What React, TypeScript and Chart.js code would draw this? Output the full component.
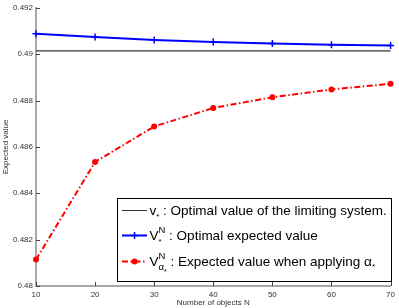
import { useEffect, useRef } from "react";
import { Chart, registerables } from "chart.js";

Chart.register(...registerables);

const objectCounts = [10, 20, 30, 40, 50, 60, 70];
const limitingValue = 0.49014;
const optimalExpected = [0.49088, 0.49074, 0.49061, 0.49053, 0.49046, 0.49041, 0.49037];
const appliedExpected = [0.48114, 0.48535, 0.48688, 0.48768, 0.48814, 0.48848, 0.48872];
const yTickValues = [0.48, 0.482, 0.484, 0.486, 0.488, 0.49, 0.492];
const xTickValues = [10, 20, 30, 40, 50, 60, 70];

const FONT = '"Liberation Sans", Arial, Helvetica, sans-serif';

type Part = { t: string; size: number; dy?: number; mode?: "next" | "stack" | "after" };

function drawRich(ctx: CanvasRenderingContext2D, x: number, y: number, parts: Part[]) {
  let lastStart = x;
  let lastEnd = x;
  let maxEnd = x;
  for (const p of parts) {
    ctx.font = `${p.size}px ${FONT}`;
    const mode = p.mode || "next";
    const px = mode === "stack" ? lastStart : mode === "after" ? maxEnd : lastEnd;
    ctx.fillText(p.t, px, y + (p.dy || 0));
    const w = ctx.measureText(p.t).width;
    lastStart = px;
    lastEnd = px + w;
    maxEnd = Math.max(maxEnd, lastEnd);
  }
}

const inwardTicks = {
  id: "inwardTicks",
  afterDatasetsDraw(chart: any) {
    const ctx = chart.ctx as CanvasRenderingContext2D;
    const xs = chart.scales.x;
    const ys = chart.scales.y;
    const { left, bottom } = chart.chartArea;
    ctx.save();
    ctx.strokeStyle = "#444";
    ctx.lineWidth = 1;
    ctx.beginPath();
    for (const t of xs.ticks) {
      const px = Math.round(xs.getPixelForValue(t.value)) + 0.5;
      ctx.moveTo(px, bottom);
      ctx.lineTo(px, bottom - 4);
    }
    for (const t of ys.ticks) {
      const py = Math.round(ys.getPixelForValue(t.value)) + 0.5;
      ctx.moveTo(left, py);
      ctx.lineTo(left + 4, py);
    }
    ctx.stroke();
    ctx.restore();
  },
};

const customLegend = {
  id: "customLegend",
  afterDraw(chart: any) {
    const ctx = chart.ctx as CanvasRenderingContext2D;
    const bx = 117.5, by = 198.5, bw = 274, bh = 83;
    ctx.save();
    ctx.fillStyle = "#fff";
    ctx.fillRect(bx, by, bw, bh);
    ctx.strokeStyle = "#000";
    ctx.lineWidth = 1;
    ctx.strokeRect(bx, by, bw, bh);

    const sx0 = 122, sx1 = 147, sxm = 134.5;
    const rows = [210, 235.5, 261.5];

    // row 1
    ctx.strokeStyle = "#333";
    ctx.lineWidth = 1;
    ctx.beginPath();
    ctx.moveTo(sx0, rows[0] + 0.5);
    ctx.lineTo(sx1, rows[0] + 0.5);
    ctx.stroke();

    // row 2
    ctx.strokeStyle = "#0000ff";
    ctx.lineWidth = 2;
    ctx.beginPath();
    ctx.moveTo(sx0, rows[1]);
    ctx.lineTo(sx1, rows[1]);
    ctx.stroke();
    ctx.lineWidth = 1.5;
    ctx.beginPath();
    ctx.moveTo(sxm - 3.5, rows[1]);
    ctx.lineTo(sxm + 3.5, rows[1]);
    ctx.moveTo(sxm, rows[1] - 3.5);
    ctx.lineTo(sxm, rows[1] + 3.5);
    ctx.stroke();

    // row 3
    ctx.strokeStyle = "#ff0000";
    ctx.lineWidth = 2;
    ctx.setLineDash([6, 2.5, 1.5, 2.5]);
    ctx.beginPath();
    ctx.moveTo(sx0, rows[2]);
    ctx.lineTo(sx1, rows[2]);
    ctx.stroke();
    ctx.setLineDash([]);
    ctx.fillStyle = "#ff0000";
    ctx.beginPath();
    ctx.arc(sxm, rows[2], 3, 0, Math.PI * 2);
    ctx.fill();

    ctx.fillStyle = "#000";
    ctx.textBaseline = "alphabetic";
    ctx.textAlign = "left";
    const tx = 149.5;
    const big = 13.5;
    drawRich(ctx, tx, rows[0] + 4.5, [
      { t: "v", size: big },
      { t: "*", size: 8, dy: 4 },
      { t: " : Optimal value of the limiting system.", size: big, mode: "after" },
    ]);
    drawRich(ctx, tx, rows[1] + 4.5, [
      { t: "V", size: big },
      { t: "N", size: 9.5, dy: -7 },
      { t: "*", size: 8, dy: 4, mode: "stack" },
      { t: " : Optimal expected value", size: big, mode: "after" },
    ]);
    drawRich(ctx, tx, rows[2] + 4.5, [
      { t: "V", size: big },
      { t: "N", size: 9.5, dy: -7 },
      { t: "α", size: 9.5, dy: 4, mode: "stack" },
      { t: "*", size: 7, dy: 8 },
      { t: " : Expected value when applying ", size: big, mode: "after" },
      { t: "α", size: big },
      { t: "*", size: 8, dy: 3 },
    ]);
    ctx.restore();
  },
};

export default function App() {
  const ref = useRef<HTMLCanvasElement | null>(null);

  useEffect(() => {
    if (!ref.current) return;
    const chart = new Chart(ref.current, {
      type: "line",
      data: {
        datasets: [
          {
            label: "limiting",
            data: objectCounts.map((n) => ({ x: n, y: limitingValue })),
            borderColor: "#000",
            borderWidth: 1,
            pointRadius: 0,
            clip: false as any,
          },
          {
            label: "optimal",
            data: objectCounts.map((n, i) => ({ x: n, y: optimalExpected[i] })),
            borderColor: "#0000ff",
            backgroundColor: "#0000ff",
            borderWidth: 2,
            pointStyle: "cross",
            pointRadius: 3.5,
            pointBorderWidth: 1.5,
            pointBorderColor: "#0000ff",
            clip: false as any,
          },
          {
            label: "applied",
            data: objectCounts.map((n, i) => ({ x: n, y: appliedExpected[i] })),
            borderColor: "#ff0000",
            backgroundColor: "#ff0000",
            borderWidth: 2,
            borderDash: [6, 2.5, 1.5, 2.5],
            pointStyle: "circle",
            pointRadius: 3,
            pointBorderWidth: 0,
            pointBackgroundColor: "#ff0000",
            clip: false as any,
          },
        ],
      },
      options: {
        responsive: false,
        animation: false,
        devicePixelRatio: 1,
        layout: { padding: { top: 4, right: 5, left: 0, bottom: 0 } },
        plugins: {
          legend: { display: false },
          tooltip: { enabled: false },
        },
        scales: {
          x: {
            type: "linear",
            min: 10,
            max: 70,
            afterFit: (s: any) => {
              s.height = 22;
            },
            afterBuildTicks: (s: any) => {
              s.ticks = xTickValues.map((v) => ({ value: v }));
            },
            grid: { display: false, drawTicks: false },
            border: { display: true, color: "#a8a8a8", width: 2 },
            ticks: {
              padding: 4,
              color: "#333",
              font: { family: FONT, size: 8 },
              maxRotation: 0,
              callback: (v: any) => String(v),
            },
            title: {
              display: true,
              text: "Number of objects N",
              color: "#333",
              font: { family: FONT, size: 8 },
              padding: { top: 0, bottom: 0 },
            },
          },
          y: {
            type: "linear",
            min: 0.48,
            max: 0.492,
            afterFit: (s: any) => {
              s.width = 36;
            },
            afterBuildTicks: (s: any) => {
              s.ticks = yTickValues.map((v) => ({ value: v }));
            },
            grid: { display: false, drawTicks: false },
            border: { display: true, color: "#a8a8a8", width: 2 },
            ticks: {
              padding: 3,
              color: "#333",
              font: { family: FONT, size: 8 },
              callback: (v: any) => String(Number(Number(v).toFixed(3))),
            },
            title: {
              display: true,
              text: "Expected value",
              color: "#333",
              font: { family: FONT, size: 8 },
              padding: { top: 0.5, bottom: 0 },
            },
          },
        },
      },
      plugins: [inwardTicks, customLegend],
    });
    return () => chart.destroy();
  }, []);

  return (
    <div style={{ position: "fixed", left: 0, top: 0, width: 399, height: 308, background: "#fff" }}>
      <canvas ref={ref} width={399} height={308} style={{ display: "block", width: 399, height: 308 }} />
    </div>
  );
}
